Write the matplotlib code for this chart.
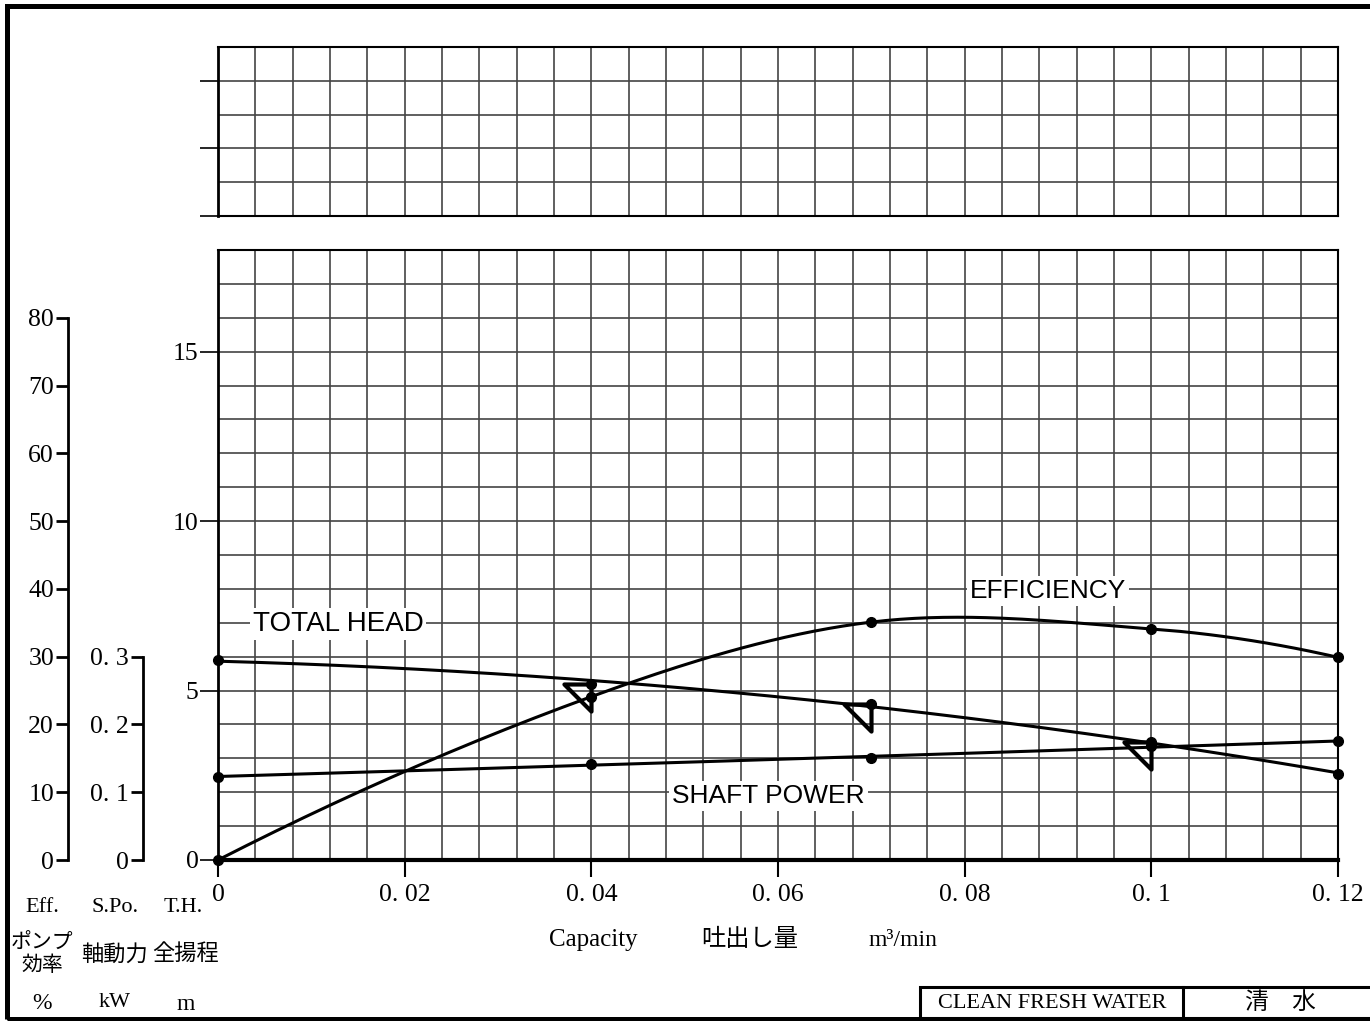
import numpy as np
import matplotlib
matplotlib.use('Agg')
import matplotlib.pyplot as plt
from matplotlib.path import Path
from matplotlib.patches import Rectangle
from matplotlib.lines import Line2D

# pump test data (capacity m3/min)
capacity = [0.0, 0.04, 0.07, 0.1, 0.12]
total_head = [5.9, 5.19, 4.6, 3.49, 2.53]        # m
efficiency = [0.0, 24.1, 35.1, 34.1, 29.9]       # %
shaft_power = [0.123, 0.141, 0.151, 0.168, 0.175]  # kW
rated_q = [0.04, 0.07, 0.1]
rated_h = [5.19, 4.6, 3.49]

x_ticks = [0, 0.02, 0.04, 0.06, 0.08, 0.1, 0.12]
x_labels = ['0', '0. 02', '0. 04', '0. 06', '0. 08', '0. 1', '0. 12']
th_ticks = [0, 5, 10, 15]
eff_ticks = [0, 10, 20, 30, 40, 50, 60, 70, 80]
spo_ticks = [0, 0.1, 0.2, 0.3]
spo_labels = ['0', '0. 1', '0. 2', '0. 3']

W, H = 1370, 1021
SERIF = ['Liberation Serif', 'Noto Sans CJK JP']
SANS = ['Liberation Sans', 'DejaVu Sans']
GRID = '#444444'

def px(x, y):
    return x / W, 1 - y / H

def smooth(xs, ys, n=40):
    # cubic hermite curve through the points (drawing only)
    xs = np.asarray(xs, float)
    ys = np.asarray(ys, float)
    d = np.diff(ys) / np.diff(xs)
    m = np.empty_like(ys)
    m[1:-1] = (ys[2:] - ys[:-2]) / (xs[2:] - xs[:-2])
    m[0] = 2 * d[0] - m[1]
    m[-1] = 2 * d[-1] - m[-2]
    px_, py_ = [], []
    for i in range(len(xs) - 1):
        h = xs[i + 1] - xs[i]
        t = np.linspace(0, 1, n)
        h00 = 2 * t**3 - 3 * t**2 + 1
        h10 = t**3 - 2 * t**2 + t
        h01 = -2 * t**3 + 3 * t**2
        h11 = t**3 - t**2
        px_.append(xs[i] + t * h)
        py_.append(h00 * ys[i] + h10 * h * m[i] + h01 * ys[i + 1] + h11 * h * m[i + 1])
    return np.concatenate(px_), np.concatenate(py_)

fig = plt.figure(figsize=(W / 100, H / 100), dpi=100)

# main chart
ax = fig.add_axes([218 / W, 1 - 860 / H, 1120 / W, 610 / H])
ax.set_xlim(0, 0.12)
ax.set_ylim(0, 18)
ax.set_xticks(x_ticks)
ax.set_xticklabels(x_labels, fontfamily=SERIF, fontsize=18.5)
ax.set_xticks(np.arange(0, 0.1201, 0.004), minor=True)
ax.set_yticks(th_ticks)
ax.set_yticklabels([str(t) for t in th_ticks], fontfamily=SERIF, fontsize=18.5)
ax.set_yticks(np.arange(0, 18.1, 1), minor=True)
ax.grid(True, which='both', color=GRID, lw=1.2)
ax.tick_params(which='minor', length=0)
ax.tick_params(axis='y', which='major', direction='out', length=13, width=1.2, pad=1)
ax.tick_params(axis='x', which='major', direction='out', length=12, width=1.5, pad=5)
for s in ax.spines.values():
    s.set_linewidth(1.5)
ax.spines['bottom'].set_linewidth(3)
ax.spines['left'].set_linewidth(2)

# upper blank grid
ax2 = fig.add_axes([218 / W, 1 - 216 / H, 1120 / W, 169 / H])
ax2.set_xlim(0, 0.12)
ax2.set_ylim(0, 5)
ax2.set_xticks(np.arange(0, 0.1201, 0.004))
ax2.set_yticks([0, 2, 4])
ax2.set_yticks([1, 3, 5], minor=True)
ax2.grid(True, which='both', color=GRID, lw=1.2)
ax2.tick_params(axis='x', length=0, labelbottom=False)
ax2.tick_params(axis='y', which='major', length=13, width=1.2, labelleft=False)
ax2.tick_params(axis='y', which='minor', length=0)
for s in ax2.spines.values():
    s.set_linewidth(1.5)
ax2.spines['left'].set_linewidth(2)

# efficiency axis
ax_e = ax.twinx()
ax_e.set_ylim(0, 90)
ax_e.yaxis.tick_left()
ax_e.spines['left'].set_position(('axes', (68 - 218) / 1120))
ax_e.spines['left'].set_bounds(0, 80)
ax_e.spines['left'].set_linewidth(2)
for k in ['right', 'top', 'bottom']:
    ax_e.spines[k].set_visible(False)
ax_e.set_yticks(eff_ticks)
ax_e.set_yticklabels([str(t) for t in eff_ticks], fontfamily=SERIF, fontsize=18.5)
ax_e.tick_params(axis='y', length=9, width=2, pad=1)

# shaft power axis
ax_s = ax.twinx()
ax_s.set_ylim(0, 0.9)
ax_s.yaxis.tick_left()
ax_s.spines['left'].set_position(('axes', (143 - 218) / 1120))
ax_s.spines['left'].set_bounds(0, 0.3)
ax_s.spines['left'].set_linewidth(2)
for k in ['right', 'top', 'bottom']:
    ax_s.spines[k].set_visible(False)
ax_s.set_yticks(spo_ticks)
ax_s.set_yticklabels(spo_labels, fontfamily=SERIF, fontsize=18.5)
ax_s.tick_params(axis='y', length=9, width=2, pad=1)

# curves
qq = np.linspace(0, 0.12, 200)
ax.plot(qq, np.polyval(np.polyfit(capacity, total_head, 2), qq), color='black', lw=2.2, zorder=5)
ax.plot(capacity, total_head, 'o', color='black', ms=7, zorder=6, clip_on=False)
ex, ey = smooth(capacity, efficiency)
ax_e.plot(ex, ey, color='black', lw=2.2)
ax_e.plot(capacity, efficiency, 'o', color='black', ms=7, clip_on=False)
ax_s.plot(qq, np.polyval(np.polyfit(capacity, shaft_power, 2), qq), color='black', lw=2.2)
ax_s.plot(capacity, shaft_power, 'o', color='black', ms=7, clip_on=False)

tri = Path([(0, 0), (-1, 0), (0, -1), (0, 0)],
           [Path.MOVETO, Path.LINETO, Path.LINETO, Path.CLOSEPOLY])
ax.plot(rated_q, rated_h, ls='none', marker=tri, ms=39, mfc='none', mec='black',
        mew=3, zorder=7)

box = dict(facecolor='white', edgecolor='none', pad=2)
ax.text(0.01286, 6.96, 'TOTAL HEAD', fontfamily=SANS, fontsize=20, ha='center', va='center',
        bbox=box, zorder=4)
ax.text(0.0889, 7.94, 'EFFICIENCY', fontfamily=SANS, fontsize=19, ha='center', va='center',
        bbox=box, zorder=4)
ax.text(0.059, 1.89, 'SHAFT POWER', fontfamily=SANS, fontsize=19, ha='center', va='center',
        bbox=box, zorder=4)

# axis captions at the bottom left
def ftext(x, y, s, size=16):
    fig.text(*px(x, y), s, ha='center', va='center', fontfamily=SERIF, fontsize=size)

ftext(42, 907, 'Eff.')
ftext(115, 907, 'S.Po.')
ftext(183, 907, 'T.H.')
ftext(42, 955, 'ポンプ\n効率', 15)
ftext(115, 955, '軸動力')
ftext(186, 955, '全揚程')
ftext(42, 1003, '%', 17)
ftext(115, 1002, 'kW')
ftext(186, 1004, 'm', 17)

ftext(593, 940, 'Capacity', 18)
ftext(750, 940, '吐出し量', 17.5)
ftext(903, 940, 'm³/min', 17)

ftext(1052, 1003, 'CLEAN FRESH WATER', 16)
ftext(1280, 1003, '清　水', 17)

# frames
fig.patches.append(Rectangle(px(7, 1018.5), (1400 - 7) / W, (1018.5 - 6.5) / H,
                             transform=fig.transFigure, fill=False, ec='black', lw=3.6))
fig.patches.append(Rectangle(px(920, 1018), (1400 - 920) / W, (1018 - 987) / H,
                             transform=fig.transFigure, fill=False, ec='black', lw=2.2))
fig.lines.append(Line2D([1183 / W, 1183 / W], [1 - 987 / H, 1 - 1018 / H],
                        transform=fig.transFigure, color='black', lw=2.2))

fig.savefig('out.png', dpi=100)
